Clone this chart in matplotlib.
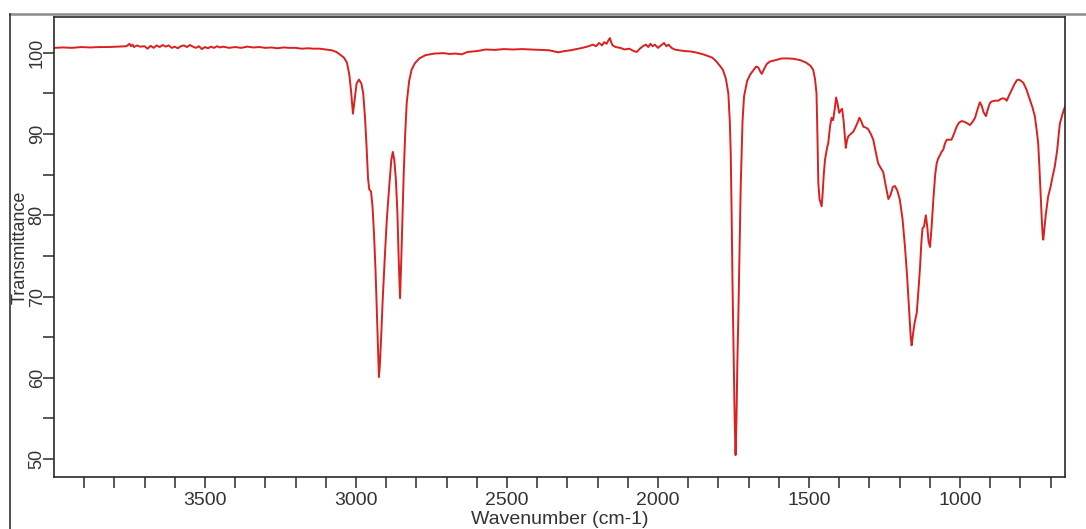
import matplotlib
matplotlib.use("Agg")
import matplotlib.pyplot as plt
from matplotlib.lines import Line2D
from matplotlib.ticker import FixedLocator, NullFormatter

plt.rcParams['font.family'] = ['Liberation Sans', 'DejaVu Sans']

# ---- data ----
wavenumber = [
    4000, 3970, 3940, 3910, 3880, 3850, 3820, 3790, 3760, 3750, 3745, 3740, 3735, 3725,
    3715, 3700, 3690, 3680, 3670, 3660, 3650, 3640, 3630, 3620, 3610, 3600, 3590, 3580,
    3570, 3560, 3550, 3540, 3530, 3520, 3510, 3500, 3490, 3480, 3470, 3460, 3450, 3440,
    3420, 3400, 3380, 3360, 3340, 3320, 3300, 3280, 3260, 3240, 3220, 3200, 3180, 3160,
    3140, 3120, 3100, 3080, 3065, 3050, 3040, 3030, 3022, 3016, 3010, 3005, 2998, 2990,
    2982, 2976, 2970, 2965, 2960, 2956, 2950, 2945, 2940, 2935, 2930, 2926, 2924, 2921,
    2916, 2912, 2905, 2898, 2890, 2883, 2878, 2873, 2868, 2863, 2858, 2854, 2850, 2846,
    2842, 2837, 2832, 2824, 2816, 2805, 2790, 2770, 2740, 2710, 2690, 2670, 2650, 2630,
    2600, 2570, 2540, 2510, 2480, 2450, 2420, 2390, 2360, 2330, 2310, 2290, 2270, 2250,
    2230, 2215, 2205, 2195, 2185, 2178, 2170, 2163, 2159, 2155, 2150, 2140, 2125, 2110,
    2095, 2080, 2070, 2060, 2050, 2040, 2032, 2025, 2018, 2010, 2000, 1990, 1980, 1972,
    1965, 1955, 1945, 1930, 1910, 1890, 1870, 1850, 1835, 1820, 1806, 1795, 1785, 1775,
    1767, 1762, 1759, 1756, 1753, 1749, 1746, 1743, 1740, 1737, 1734, 1730, 1726, 1720,
    1715, 1705, 1695, 1685, 1675, 1668, 1660, 1656, 1650, 1640, 1630, 1610, 1590, 1570,
    1550, 1530, 1510, 1495, 1486, 1480, 1475, 1472, 1469, 1465, 1461, 1458, 1455, 1451,
    1447, 1440, 1436, 1430, 1425, 1420, 1415, 1410, 1405, 1400, 1395, 1390, 1385, 1378,
    1374, 1370, 1362, 1353, 1345, 1338, 1333, 1327, 1320, 1312, 1304, 1295, 1287, 1280,
    1271, 1262, 1254, 1245, 1237, 1230, 1222, 1215, 1207, 1199, 1190, 1182, 1175, 1168,
    1163, 1160, 1155, 1150, 1143, 1137, 1132, 1128, 1124, 1119, 1113, 1108, 1104, 1099,
    1094, 1088, 1082, 1077, 1072, 1066, 1061, 1055, 1050, 1044, 1036, 1028, 1020, 1011,
    1003, 994, 985, 975, 967, 958, 950, 942, 934, 928, 922, 914, 908, 901, 895, 885,
    873, 865, 857, 850, 845, 838, 829, 820, 812, 807, 800, 790, 780, 768, 760, 752,
    746, 741, 737, 733, 729, 726, 724, 720, 716, 708, 700, 693, 686, 678, 672, 669,
    660, 652,
]
transmittance = [
    100.6, 100.65, 100.6, 100.7, 100.65, 100.7, 100.7, 100.75, 100.8, 101.1, 100.8, 101.0, 100.7, 100.9,
    100.75, 100.8, 100.5, 100.85, 100.6, 100.9, 100.7, 100.95, 100.75, 100.9, 100.6, 100.75, 100.55, 100.8,
    100.9, 100.7, 100.95, 100.75, 100.6, 100.8, 100.45, 100.7, 100.55, 100.75, 100.6, 100.8, 100.65, 100.75,
    100.6, 100.7, 100.6, 100.75, 100.65, 100.7, 100.6, 100.65, 100.55, 100.65, 100.6, 100.6, 100.5, 100.55,
    100.5, 100.5, 100.4, 100.3, 100.1, 99.7, 99.4, 98.8, 97.3, 95.2, 92.5, 94.0, 96.2, 96.7,
    96.2, 95.0, 92.0, 88.5, 84.5, 83.2, 82.9, 81.0, 77.5, 73.0, 67.0, 62.0, 60.1, 61.5,
    65.5, 69.2, 74.5, 79.4, 83.5, 86.8, 87.8, 86.8, 84.5, 80.5, 74.0, 69.8, 74.5, 80.0,
    85.0, 90.0, 93.8, 96.5, 97.9, 98.7, 99.3, 99.7, 99.9, 99.95, 99.85, 99.9, 99.8, 100.1,
    100.2, 100.4, 100.35, 100.45, 100.4, 100.45, 100.4, 100.35, 100.3, 100.05, 100.2, 100.3, 100.45, 100.6,
    100.8, 101.0, 100.8, 101.2, 100.9, 101.3, 101.1, 101.6, 101.8, 101.3, 100.9, 100.7, 100.6, 100.4,
    100.5, 100.2, 100.1, 100.5, 100.8, 101.0, 100.7, 101.1, 100.8, 101.0, 100.6, 100.9, 101.2, 100.8,
    101.0, 100.6, 100.4, 100.3, 100.2, 100.15, 100.0, 99.8, 99.6, 99.4, 98.9, 98.4, 97.9, 96.8,
    95.0, 91.5, 87.6, 80.0, 71.2, 62.0, 55.0, 50.5, 55.0, 62.0, 67.1, 75.0, 83.5, 91.5,
    94.6, 96.5, 97.3, 97.8, 98.3, 98.2, 97.6, 97.4, 97.9, 98.6, 98.9, 99.1, 99.3, 99.3,
    99.25, 99.1, 98.8, 98.4, 97.9, 96.8, 95.0, 90.0, 84.0, 82.0, 81.5, 81.1, 82.5, 85.0,
    86.8, 88.3, 88.9, 91.0, 92.0, 91.7, 93.0, 94.5, 93.7, 92.6, 92.9, 93.1, 91.5, 88.3,
    89.2, 89.7, 90.0, 90.3, 90.9, 91.5, 92.0, 91.6, 90.9, 90.8, 90.6, 90.0, 89.3, 88.0,
    86.4, 85.8, 85.3, 83.5, 82.0, 82.5, 83.5, 83.6, 83.0, 81.9, 79.5, 76.1, 72.5, 68.0,
    65.0, 64.0, 65.5, 66.8, 68.0, 71.0, 73.7, 76.5, 78.4, 78.6, 80.0, 78.5, 76.8, 76.1,
    78.5, 82.0, 85.0, 86.4, 87.0, 87.4, 87.8, 88.1, 88.8, 89.3, 89.3, 89.3, 90.0, 90.9,
    91.4, 91.6, 91.5, 91.3, 91.1, 91.5, 92.0, 93.0, 93.9, 93.5, 92.7, 92.2, 93.0, 93.8, 94.0, 94.1,
    94.1, 94.3, 94.4, 94.3, 94.1, 94.7, 95.4, 96.1, 96.6, 96.7, 96.6, 96.3, 95.5, 94.2, 93.3, 92.2,
    90.5, 88.9, 86.0, 82.7, 79.5, 77.5, 77.0, 78.5, 80.0, 82.3, 83.5, 84.8, 86.0, 88.0, 90.3, 91.3,
    92.5, 93.4,
]
x_major = [3500, 3000, 2500, 2000, 1500, 1000]
x_minor = [3900, 3800, 3700, 3600, 3400, 3300, 3200, 3100, 2900, 2800, 2700, 2600,
           2400, 2300, 2200, 2100, 1900, 1800, 1700, 1600, 1400, 1300, 1200, 1100,
           900, 800, 700]
y_major = [50, 60, 70, 80, 90, 100]
y_minor = [55, 65, 75, 85, 95]

fig = plt.figure(figsize=(10.86, 5.29), dpi=100)
ax = fig.add_axes([0.0497, 0.0983, 0.9310, 0.8696])

ax.plot(wavenumber, transmittance, color='#dc1f1f', lw=1.4)

ax.set_xlim(4000, 652)
ax.set_ylim(47.8, 104.4)

ax.xaxis.set_major_locator(FixedLocator(x_major))
ax.xaxis.set_minor_locator(FixedLocator(x_minor))
ax.yaxis.set_major_locator(FixedLocator(y_major))
ax.yaxis.set_minor_locator(FixedLocator(y_minor))
ax.xaxis.set_minor_formatter(NullFormatter())
ax.yaxis.set_minor_formatter(NullFormatter())

tick_col = '#2a2a2a'
ax.tick_params(axis='both', which='both', direction='out', length=8, width=1.1,
               color=tick_col, labelcolor='#333333')
ax.tick_params(axis='x', which='major', labelsize=14, pad=3)
ax.tick_params(axis='y', which='major', labelsize=13, pad=-2, labelrotation=90)
for lbl in ax.get_yticklabels():
    lbl.set_va('center')

for s in ax.spines.values():
    s.set_color(tick_col)
    s.set_linewidth(1.2)

ax.set_xlabel('Wavenumber (cm-1)', fontsize=14, color='#333333')
ax.set_ylabel('Transmittance', fontsize=13, color='#333333')
ax.xaxis.set_label_coords(0.5, -0.074)
ax.yaxis.set_label_coords(-0.025, 0.5)

# outer frame (partially cropped border of the original figure)
fig.add_artist(Line2D([0.0092, 1.0], [0.9735, 0.9735], transform=fig.transFigure,
                      color='#8a8a8a', lw=1.8))
fig.add_artist(Line2D([0.0092, 0.0092], [0.0, 0.9735], transform=fig.transFigure,
                      color='#333333', lw=1.2))

fig.savefig('out.png', dpi=100, facecolor='white')
